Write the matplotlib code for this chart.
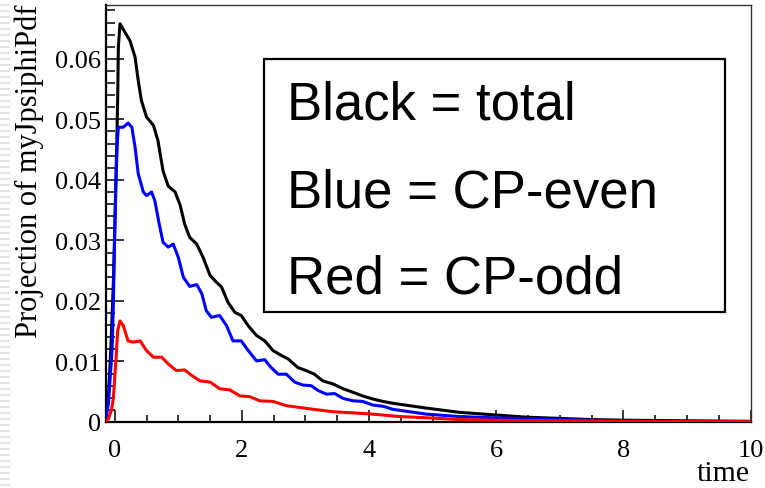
import matplotlib
matplotlib.use("Agg")
import matplotlib.pyplot as plt
from matplotlib.patches import Rectangle
from matplotlib.lines import Line2D
from matplotlib.ticker import MultipleLocator

# values
t_total = [-0.145, -0.10, -0.06, -0.02, 0.005, 0.031, 0.047, 0.057, 0.083, 0.16, 0.24,
           0.32, 0.37, 0.42, 0.50, 0.61, 0.68, 0.76, 0.84, 0.95, 1.03, 1.10, 1.18,
           1.29, 1.39, 1.50, 1.60, 1.68, 1.78, 1.89, 1.99, 2.10, 2.23, 2.36, 2.49,
           2.62, 2.73, 2.88, 3.01, 3.14, 3.27, 3.43, 3.59, 3.75, 3.90, 4.06, 4.22,
           4.37, 4.90, 5.42, 5.94, 6.47, 6.99, 7.5, 8.0, 9.0, 10.0]
y_total = [0.0003, 0.004, 0.0124, 0.0234, 0.034, 0.0454, 0.0537, 0.0619, 0.0658, 0.0644,
           0.063, 0.0603, 0.0564, 0.0531, 0.0504, 0.049, 0.0465, 0.0415, 0.039, 0.038,
           0.0358, 0.0327, 0.0305, 0.0294, 0.0272, 0.0242, 0.0231, 0.0223, 0.0198,
           0.0181, 0.0176, 0.0159, 0.0143, 0.0134, 0.0118, 0.0110, 0.0104, 0.0090,
           0.0085, 0.0079, 0.0068, 0.0063, 0.0055, 0.0049, 0.0043, 0.0038, 0.0034,
           0.0031, 0.0023, 0.0016, 0.0012, 0.0008, 0.0006, 0.0004, 0.0003, 0.0002, 0.0001]

t_even = [-0.145, -0.10, -0.06, -0.04, -0.02, 0.0, 0.02, 0.04, 0.057, 0.135, 0.21, 0.27,
          0.32, 0.37, 0.45, 0.50, 0.58, 0.63, 0.70, 0.76, 0.84, 0.92, 1.00, 1.08, 1.18,
          1.29, 1.37, 1.44, 1.52, 1.65, 1.76, 1.86, 1.99, 2.10, 2.23, 2.36, 2.46, 2.57,
          2.70, 2.83, 2.96, 3.09, 3.20, 3.33, 3.46, 3.59, 3.75, 3.90, 4.06, 4.22, 4.37,
          4.90, 5.42, 5.94, 6.99, 8.0, 9.0, 10.0]
y_even = [0.0002, 0.003, 0.009, 0.0124, 0.02, 0.031, 0.040, 0.046, 0.0487, 0.0487, 0.0494,
          0.0487, 0.0454, 0.041, 0.038, 0.0374, 0.038, 0.0366, 0.0327, 0.0297, 0.0289,
          0.0294, 0.0272, 0.0239, 0.0224, 0.0227, 0.0212, 0.0184, 0.0173, 0.0176,
          0.0159, 0.0134, 0.0134, 0.0118, 0.0101, 0.0103, 0.0090, 0.0079, 0.0079,
          0.0066, 0.0061, 0.0060, 0.0052, 0.0046, 0.0047, 0.0039, 0.0035, 0.0034,
          0.0028, 0.0026, 0.0021, 0.0013, 0.0009, 0.0007, 0.0004, 0.0002, 0.0001, 0.0001]

t_odd = [-0.145, -0.10, -0.05, -0.02, 0.015, 0.047, 0.083, 0.135, 0.21, 0.29, 0.40, 0.50,
         0.61, 0.74, 0.84, 0.97, 1.10, 1.21, 1.34, 1.50, 1.65, 1.81, 1.97, 2.12, 2.28,
         2.49, 2.70, 2.91, 3.12, 3.43, 3.75, 4.06, 4.48, 4.90, 5.42, 6.0, 7.0, 8.0, 10.0]
y_odd = [0.0001, 0.0005, 0.002, 0.0041, 0.0096, 0.0151, 0.0167, 0.0159, 0.0134, 0.0132,
         0.0134, 0.0118, 0.0107, 0.0107, 0.0096, 0.0085, 0.0086, 0.0077, 0.0068, 0.0066,
         0.0055, 0.0053, 0.0043, 0.0042, 0.0035, 0.0034, 0.0027, 0.0024, 0.0021,
         0.0017, 0.0015, 0.0013, 0.0009, 0.0007, 0.0004, 0.0003, 0.0002, 0.0001, 0.00005]

legend_lines = ["Black = total", "Blue = CP-even", "Red = CP-odd"]

W, H = 765, 489
fig = plt.figure(figsize=(W / 100, H / 100), dpi=100)
ax = fig.add_axes([105.5 / W, 1 - 423 / H, 645 / W, 417 / H])

serif = ["Liberation Serif", "DejaVu Serif"]
sans = ["Liberation Sans", "DejaVu Sans"]

lw = 2.2
ax.plot(t_total, y_total, color="black", lw=lw, solid_joinstyle="round", zorder=3)
ax.plot(t_even, y_even, color="#0000ff", lw=lw, solid_joinstyle="round", zorder=4)
ax.plot(t_odd, y_odd, color="#ff0000", lw=lw, solid_joinstyle="round", zorder=5)

ax.set_xlim(-0.145, 10.0)
ax.set_ylim(0, 0.0689)

ax.xaxis.set_minor_locator(MultipleLocator(0.5))
ax.yaxis.set_minor_locator(MultipleLocator(0.002))
ax.set_yticks([0, 0.01, 0.02, 0.03, 0.04, 0.05, 0.06])
ax.set_yticklabels(["0", "0.01", "0.02", "0.03", "0.04", "0.05", "0.06"])
ax.set_xticks([0, 2, 4, 6, 8, 10])
ax.set_xticklabels(["0", "2", "4", "6", "8", "10"])

ax.tick_params(axis="y", which="major", direction="in", length=13, width=1.1, pad=3.5,
               labelsize=19)
ax.tick_params(axis="y", which="minor", direction="in", length=6.5, width=1.1)
ax.tick_params(axis="x", which="major", direction="in", length=9, width=1.1, pad=12,
               labelsize=19)
ax.tick_params(axis="x", which="minor", direction="in", length=4.7, width=1.1)
for lab in ax.get_xticklabels() + ax.get_yticklabels():
    lab.set_family(serif)

for side in ["left", "bottom"]:
    ax.spines[side].set_linewidth(1.6)
for side in ["top", "right"]:
    ax.spines[side].set_linewidth(1.0)
    ax.spines[side].set_color("#333333")

# axis titles, ROOT style (right/top aligned)
fig.text(29 / W, 1 - 5 / H, "Projection of myJpsiphiPdf", rotation=90, ha="center",
         va="top", fontsize=22, family=serif)
fig.text(750 / W, 1 - 481 / H, "time", ha="right", va="baseline", fontsize=21.5,
         family=serif)

# text box
box = Rectangle((264 / W, 1 - 313 / H), (725 - 264) / W, (313 - 60) / H,
                transform=fig.transFigure, facecolor="white", edgecolor="black",
                lw=1.6, zorder=10)
fig.patches.append(box)
for txt, base in zip(legend_lines, [120, 207, 293]):
    fig.text(287 / W, 1 - base / H, txt, ha="left", va="baseline", fontsize=38,
             family=sans, zorder=11)

# faint striped strip at the left edge of the screenshot
for k in range(0, H, 6):
    fig.lines.append(Line2D([0, 9 / W], [1 - k / H, 1 - k / H],
                            transform=fig.transFigure, color="#e4e4e4", lw=1.5))

fig.savefig("out.png", dpi=100)
